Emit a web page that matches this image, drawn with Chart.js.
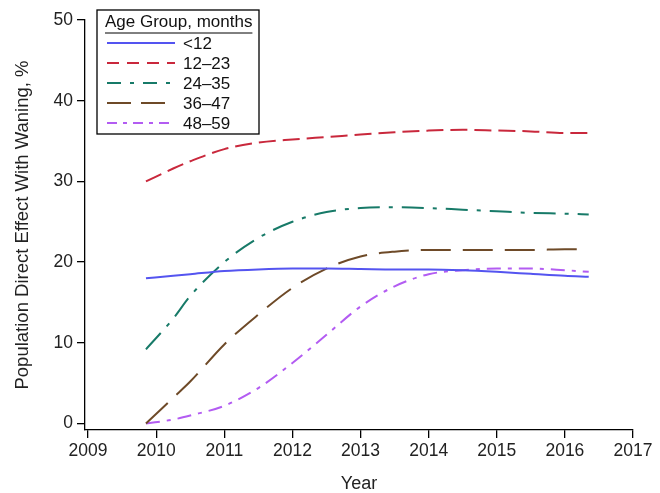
<!DOCTYPE html>
<html>
<head>
<meta charset="utf-8">
<script src="https://cdn.jsdelivr.net/npm/chart.js@4.4.1/dist/chart.umd.min.js"></script>
<style>
  html, body { margin: 0; padding: 0; background: #fff; }
  #wrap { width: 660px; height: 493px; }
</style>
</head>
<body>
<div id="wrap"><canvas id="chart"></canvas></div>
<script>
// values
const years = [2009.85, 2010.25, 2010.5, 2011, 2011.5, 2012, 2012.5, 2013, 2013.5, 2014, 2014.5, 2015, 2015.5, 2016, 2016.35];
const under12 = [18.0, 18.3, 18.5, 18.9, 19.1, 19.2, 19.2, 19.15, 19.1, 19.1, 19.0, 18.8, 18.55, 18.3, 18.2];
const m12to23 = [30.0, 31.6, 32.5, 34.0, 34.8, 35.2, 35.5, 35.8, 36.1, 36.3, 36.4, 36.3, 36.2, 36.0, 36.0];
const m24to35 = [9.2, 13.0, 15.8, 20.0, 23.0, 25.0, 26.2, 26.7, 26.8, 26.7, 26.5, 26.3, 26.1, 26.0, 25.9];
const m36to47 = [0.0, 3.2, 5.2, 9.8, 13.5, 16.8, 19.2, 20.7, 21.3, 21.5, 21.5, 21.5, 21.5, 21.6, 21.6];
const m48to59 = [0.0, 0.5, 1.0, 2.2, 4.4, 7.5, 11.0, 14.5, 17.0, 18.5, 19.0, 19.2, 19.2, 19.0, 18.8];
const seriesNames = ['<12', '12\u201323', '24\u201335', '36\u201347', '48\u201359'];
const yearTicks = [2009, 2010, 2011, 2012, 2013, 2014, 2015, 2016, 2017];
const valueTicks = [0, 10, 20, 30, 40, 50];

const colors = ['#5454f0', '#c9283c', '#177a68', '#6e4a28', '#b35cf2'];
const dashes = [[], [17, 7], [22, 9, 4, 9], [30, 12], [14, 7, 4, 7]];
const legendDashes = [[], [12, 8], [14, 9, 4, 9], [24, 10], [10, 6, 4, 6]];
const allValues = [under12, m12to23, m24to35, m36to47, m48to59];

const FONT = '"Liberation Sans", Arial, sans-serif';

const datasets = allValues.map((vals, i) => ({
    label: seriesNames[i],
    data: years.map((x, j) => ({ x: x, y: vals[j] })),
    borderColor: colors[i],
    borderWidth: 2,
    borderDash: dashes[i],
    pointRadius: 0,
    fill: false,
    cubicInterpolationMode: 'monotone'
}));

// boxed legend inside the plot area, top left
const boxLegend = {
    id: 'boxLegend',
    afterDraw(chart) {
        const ctx = chart.ctx;
        const x0 = 97, y0 = 10, w = 162, h = 124;
        ctx.save();
        ctx.fillStyle = '#fff';
        ctx.fillRect(x0, y0, w, h);
        ctx.strokeStyle = '#000';
        ctx.lineWidth = 1.3;
        ctx.strokeRect(x0, y0, w, h);
        ctx.fillStyle = '#111';
        ctx.font = '17px ' + FONT;
        ctx.textBaseline = 'middle';
        const title = 'Age Group, months';
        ctx.fillText(title, x0 + 8, y0 + 12);
        const tw = ctx.measureText(title).width;
        ctx.beginPath();
        ctx.lineWidth = 1;
        ctx.moveTo(x0 + 8, y0 + 23);
        ctx.lineTo(x0 + 8 + tw, y0 + 23);
        ctx.stroke();
        chart.data.datasets.forEach((ds, i) => {
            const yy = y0 + 33 + i * 20;
            ctx.beginPath();
            ctx.strokeStyle = ds.borderColor;
            ctx.lineWidth = 2;
            ctx.setLineDash(legendDashes[i]);
            ctx.moveTo(x0 + 10, yy);
            ctx.lineTo(x0 + 78, yy);
            ctx.stroke();
            ctx.setLineDash([]);
            ctx.fillStyle = '#111';
            ctx.fillText(ds.label, x0 + 86, yy + 1);
        });
        ctx.restore();
    }
};

new Chart(document.getElementById('chart'), {
    type: 'line',
    data: { datasets: datasets },
    plugins: [boxLegend],
    options: {
        responsive: true,
        maintainAspectRatio: false,
        animation: false,
        layout: { padding: { top: 20, right: 27, left: 8, bottom: 0 } },
        plugins: {
            legend: { display: false },
            tooltip: { enabled: false }
        },
        scales: {
            x: {
                type: 'linear',
                min: 2008.955,
                max: 2017,
                afterBuildTicks: s => { s.ticks = yearTicks.map(v => ({ value: v })); },
                afterFit: s => { s.height = 63; },
                grid: { drawOnChartArea: false, color: '#000', tickLength: 8, lineWidth: 1.3 },
                border: { color: '#000', width: 1.3 },
                ticks: { color: '#222', font: { family: FONT, size: 17.5 }, padding: 3, maxRotation: 0, callback: v => String(v) },
                title: { display: true, text: 'Year', color: '#222', font: { family: FONT, size: 18 }, padding: { top: 4, bottom: -2 } }
            },
            y: {
                min: -0.8,
                max: 50,
                afterBuildTicks: s => { s.ticks = valueTicks.map(v => ({ value: v })); },
                afterFit: s => { s.width = 77; },
                grid: { drawOnChartArea: false, color: '#000', tickLength: 8, lineWidth: 1.3 },
                border: { color: '#000', width: 1.3 },
                ticks: { color: '#222', font: { family: FONT, size: 17.5 }, padding: 4 },
                title: { display: true, text: 'Population Direct Effect With Waning, %', color: '#222', font: { family: FONT, size: 18.5 }, padding: { bottom: 2 } }
            }
        }
    }
});
</script>
</body>
</html>
